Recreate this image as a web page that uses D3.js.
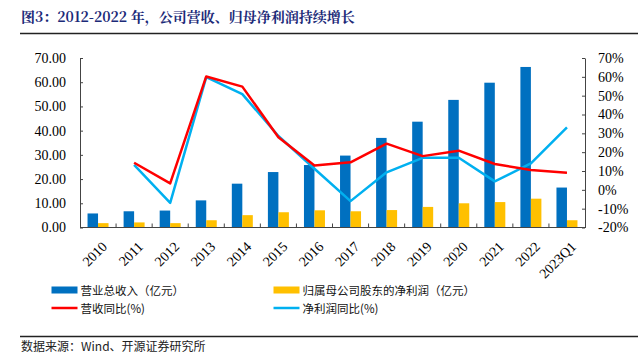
<!DOCTYPE html>
<html lang="zh">
<head>
<meta charset="UTF-8">
<title>图3</title>
<script src="https://d3js.org/d3.v7.min.js"></script>
<style>
    body { margin: 0; background: #fff; }
    svg { display: block; }
    .tick-lbl { font-family: "Liberation Serif", "Times New Roman", serif; font-size: 14px; fill: #000; }
    .cn { font-family: "Noto Sans CJK SC", sans-serif; }
</style>
</head>
<body>
<svg width="638" height="353"></svg>
<script>
// data
const categories = ["2010","2011","2012","2013","2014","2015","2016","2017","2018","2019","2020","2021","2022","2023Q1"];
const revenue = [5.8, 6.7, 7.0, 11.2, 18.1, 22.9, 25.8, 29.7, 37.0, 43.7, 52.7, 59.8, 66.3, 16.5];
const netProfit = [1.8, 2.1, 1.8, 3.0, 5.1, 6.3, 7.1, 6.7, 7.2, 8.5, 10.0, 10.5, 11.9, 3.0];
const revenueYoY = [null, 14.4, 3.4, 60.2, 54.8, 27.9, 12.9, 14.6, 24.5, 17.9, 20.8, 13.7, 10.5, 9.1];
const profitYoY = [null, 13.3, -6.9, 59.8, 50.8, 28.6, 11.2, -6.0, 9.3, 17.0, 17.0, 4.5, 14.0, 33.2];
const leftTicks = [0, 10, 20, 30, 40, 50, 60, 70];
const rightTicks = [-20, -10, 0, 10, 20, 30, 40, 50, 60, 70];
const legendItems = [
    { label: "营业总收入（亿元）", type: "bar", color: "#0070C0" },
    { label: "归属母公司股东的净利润（亿元）", type: "bar", color: "#FFC000" },
    { label: "营收同比(%)", type: "line", color: "#FF0000" },
    { label: "净利润同比(%)", type: "line", color: "#00B0F0" }
];

const svg = d3.select("svg");
const plot = { left: 80, right: 585, top: 58, bottom: 227.5 };

// title
svg.append("text")
    .attr("x", 21).attr("y", 22)
    .attr("class", "cn")
    .style("font-family", "'Noto Serif CJK SC', 'Liberation Serif', 'Noto Sans CJK SC', serif")
    .style("font-size", "14px").style("font-weight", "bold")
    .attr("fill", "#1c2a78")
    .text("图3：2012-2022 年，公司营收、归母净利润持续增长");
svg.append("line")
    .attr("x1", 20).attr("x2", 638).attr("y1", 33.5).attr("y2", 33.5)
    .attr("stroke", "#222").attr("stroke-width", 1.3);

const x = d3.scaleBand().domain(categories).range([plot.left, plot.right]).padding(0);
const yL = d3.scaleLinear().domain([0, 70]).range([plot.bottom, plot.top]);
const yR = d3.scaleLinear().domain([-20, 70]).range([plot.bottom, plot.top]);
const barW = 10.5;

// bars
svg.append("g").selectAll("rect")
    .data(categories)
    .join("rect")
    .attr("x", (d) => x(d) + x.bandwidth() / 2 - barW)
    .attr("y", (d, i) => yL(revenue[i]))
    .attr("width", barW)
    .attr("height", (d, i) => yL(0) - yL(revenue[i]))
    .attr("fill", "#0070C0");
svg.append("g").selectAll("rect")
    .data(categories)
    .join("rect")
    .attr("x", (d) => x(d) + x.bandwidth() / 2)
    .attr("y", (d, i) => yL(netProfit[i]))
    .attr("width", barW)
    .attr("height", (d, i) => yL(0) - yL(netProfit[i]))
    .attr("fill", "#FFC000");

// lines
const line = d3.line()
    .defined((d) => d.v !== null)
    .x((d) => x(d.c) + x.bandwidth() / 2)
    .y((d) => yR(d.v));
svg.append("path")
    .datum(categories.map((c, i) => ({ c, v: profitYoY[i] })))
    .attr("d", line).attr("fill", "none")
    .attr("stroke", "#00B0F0").attr("stroke-width", 2.5).attr("stroke-linejoin", "round");
svg.append("path")
    .datum(categories.map((c, i) => ({ c, v: revenueYoY[i] })))
    .attr("d", line).attr("fill", "none")
    .attr("stroke", "#FF0000").attr("stroke-width", 2.5).attr("stroke-linejoin", "round");

// left axis
const gL = svg.append("g").attr("transform", `translate(${plot.left},0)`)
    .call(d3.axisLeft(yL).tickValues(leftTicks).tickFormat(d3.format(".2f")).tickSizeInner(-3).tickSizeOuter(0).tickPadding(14));
gL.selectAll("text").attr("class", "tick-lbl").style("font-size", null).style("font-family", null);
gL.select(".domain").attr("stroke", "#444");
gL.selectAll(".tick line").attr("stroke", "#444");

// right axis
const gR = svg.append("g").attr("transform", `translate(${plot.right},0)`)
    .call(d3.axisRight(yR).tickValues(rightTicks).tickFormat((d) => d + "%").tickSizeInner(-3).tickSizeOuter(0).tickPadding(13));
gR.selectAll("text").attr("class", "tick-lbl");
gR.select(".domain").attr("stroke", "#444");
gR.selectAll(".tick line").attr("stroke", "#444");
svg.selectAll(".tick text").style("font-size", "14px").style("font-family", "'Liberation Serif', serif");

// bottom axis
const gB = svg.append("g").attr("transform", `translate(0,${plot.bottom})`);
gB.append("line").attr("x1", plot.left).attr("x2", plot.right)
    .attr("stroke", "#444").attr("stroke-width", 1.2);
gB.selectAll("line.tk")
    .data(categories.slice(1))
    .join("line")
    .attr("class", "tk")
    .attr("x1", (d) => x(d)).attr("x2", (d) => x(d))
    .attr("y1", -4).attr("y2", 0)
    .attr("stroke", "#444");
gB.selectAll("text")
    .data(categories)
    .join("text")
    .attr("class", "tick-lbl")
    .attr("text-anchor", "end")
    .attr("transform", (d) => `translate(${x(d) + x.bandwidth() / 2 + 3},${13}) rotate(-45)`)
    .attr("dy", "0.7em")
    .text((d) => d);

// legend
const legPos = [[51.5, 290], [273.5, 290], [51.5, 308], [273.5, 308]];
legendItems.forEach((item, i) => {
    const [lx, ly] = legPos[i];
    if (item.type === "bar") {
        svg.append("rect").attr("x", lx).attr("y", ly - 3.5).attr("width", 26).attr("height", 7).attr("fill", item.color);
    } else {
        svg.append("line").attr("x1", lx).attr("x2", lx + 26).attr("y1", ly).attr("y2", ly)
            .attr("stroke", item.color).attr("stroke-width", 2.5);
    }
    svg.append("text")
        .attr("x", lx + 29).attr("y", ly + 4.5)
        .style("font-family", "'Noto Sans CJK SC', 'Liberation Serif', sans-serif")
        .style("font-size", "11.5px")
        .attr("fill", "#111")
        .text(item.label);
});

// source
svg.append("line")
    .attr("x1", 20).attr("x2", 638).attr("y1", 336.5).attr("y2", 336.5)
    .attr("stroke", "#222").attr("stroke-width", 1.3);
svg.append("text")
    .attr("x", 21).attr("y", 351)
    .style("font-family", "'Noto Sans CJK SC', sans-serif")
    .style("font-size", "12px")
    .attr("fill", "#222")
    .text("数据来源：Wind、开源证券研究所");
</script>
</body>
</html>
